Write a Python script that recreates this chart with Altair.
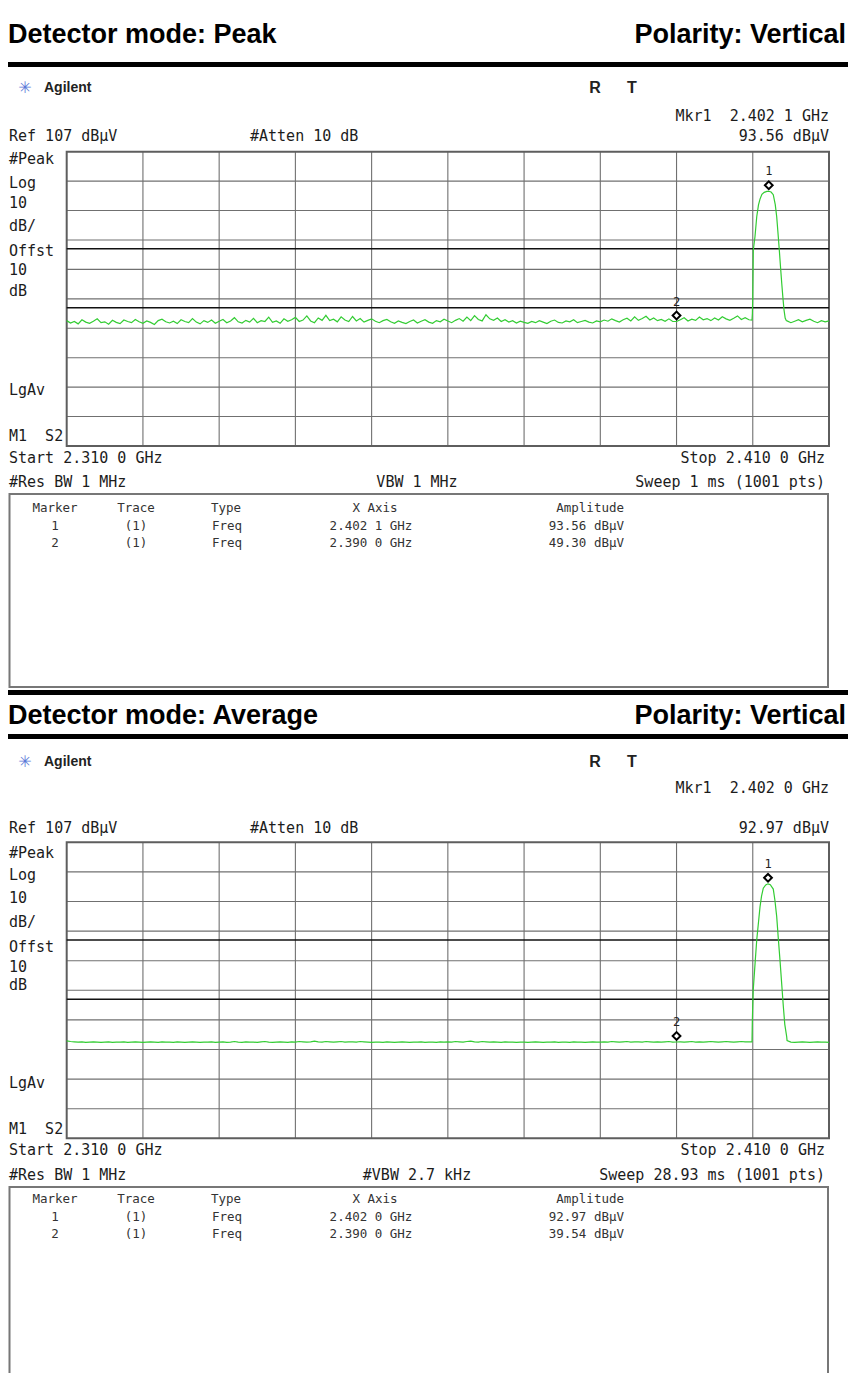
import altair as alt
import pandas as pd

# ---------------- page mapping (reference pixel -> chart pixel) ----------------
OX, OY = 8, 8
W, H = 840, 1365
MONO = "DejaVu Sans Mono"
SANS = "Liberation Sans"
GREEN = "#33cc33"
GRID = "#707070"
INK = "#1c1c1c"

# ---------------- data ----------------
DETECTOR_MODES = ["Peak", "Average"]
POLARITY = "Vertical"
F_START, F_STOP = 2.310, 2.410          # GHz
REF_LEVEL = 107                          # dBuV
SPAN_DB = 100                            # 10 dB/div x 10 div
GRID_FREQS = [2.31, 2.32, 2.33, 2.34, 2.35, 2.36, 2.37, 2.38, 2.39, 2.40, 2.41]
GRID_LEVELS = [107, 97, 87, 77, 67, 57, 47, 37, 27, 17, 7]
LIMIT_LINES = [74, 54]
FLOOR_STEP = 0.0005
RIGHT_FLOOR_START = 2.4045

PEAK_FLOOR_LEFT = [
    49.6, 48.8, 49.3, 48.5, 49.9, 49.1, 48.7, 49.4, 50.2, 48.9, 49.2, 48.4, 49.7, 49.0, 48.6, 49.8, 49.3, 48.9, 50.0, 49.2,
    48.7, 49.5, 49.0, 48.3, 49.6, 50.1, 49.2, 48.8, 49.4, 48.6, 49.9, 49.3, 48.9, 50.3, 49.1, 48.5, 49.6, 49.0, 49.8, 48.7,
    49.4, 50.0, 48.9, 49.5, 50.6, 49.2, 48.8, 49.7, 49.1, 50.4, 48.9, 49.6, 49.3, 50.8, 49.0, 49.5, 48.7, 50.2, 49.4, 49.9,
    50.7, 49.3, 49.8, 51.2, 49.5, 48.9, 50.5, 49.7, 51.4, 49.6, 50.1, 49.2, 50.9, 49.8, 49.3, 51.0, 49.5, 50.3, 49.1, 49.7,
    50.2, 49.4, 48.9, 49.6, 50.0, 49.2, 48.7, 49.5, 49.0, 48.6, 49.3, 49.8, 48.8, 49.4, 49.9, 49.1, 48.7, 49.6, 49.2, 50.1,
    49.5, 48.9, 49.7, 50.3, 49.4, 50.8, 49.6, 51.3, 50.0, 49.5, 51.6, 50.2, 49.7, 50.5, 49.3, 49.9, 49.1, 49.6, 48.8, 49.4,
    49.0, 48.7, 49.3, 48.9, 49.6, 49.1, 48.6, 49.4, 49.8, 49.0, 48.8, 49.5, 49.2, 49.9, 48.9, 49.3, 49.7, 49.1, 48.8, 49.5,
    49.2, 49.8, 49.4, 50.2, 49.6, 49.1, 49.9, 50.4, 49.5, 50.9, 49.7, 50.3, 51.1, 49.8, 50.5, 49.6, 50.0, 49.4, 50.2, 49.3,
    49.3, 49.9, 50.6, 49.5, 50.1, 49.7, 50.8, 49.9, 50.3, 49.6, 50.5, 49.8, 50.9, 50.2, 49.7, 50.4, 51.2, 50.0, 50.6, 49.9,
]
PEAK_SIGNAL_F = [2.39990, 2.39995, 2.40000, 2.40007, 2.40029, 2.40052, 2.40075, 2.40095, 2.40120, 2.40150,
                 2.40185, 2.40210, 2.40240, 2.40269, 2.40295, 2.40314, 2.40335, 2.40348, 2.40365, 2.40380,
                 2.40395, 2.40410, 2.40425, 2.40440]
PEAK_SIGNAL_A = [49.8, 52.0, 57.7, 73.6, 78.1, 84.9, 88.9, 90.9, 92.5, 93.2,
                 93.5, 93.56, 93.3, 92.4, 89.0, 84.9, 78.0, 73.6, 67.5, 62.3,
                 57.5, 53.2, 50.5, 49.6]
PEAK_FLOOR_RIGHT = [49.5, 48.9, 49.4, 49.9, 49.2, 49.7, 50.1, 49.4, 48.9, 49.6, 49.2, 49.5]

AVG_FLOOR_LEFT = [
    39.9, 39.7, 39.6, 39.5, 39.6, 39.4, 39.5, 39.6, 39.5, 39.4, 39.5, 39.6, 39.4, 39.5, 39.5, 39.6, 39.4, 39.5, 39.6, 39.5,
    39.4, 39.5, 39.6, 39.5, 39.4, 39.6, 39.5, 39.5, 39.4, 39.6, 39.5, 39.4, 39.5, 39.6, 39.5, 39.4, 39.5, 39.5, 39.6, 39.4,
    39.5, 39.6, 39.4, 39.5, 39.7, 39.5, 39.4, 39.6, 39.5, 39.5, 39.4, 39.6, 39.7, 39.5, 39.4, 39.5, 39.6, 39.5, 39.4, 39.6,
    39.5, 39.7, 39.6, 39.5, 39.6, 39.8, 39.6, 39.5, 39.7, 39.6, 39.5, 39.6, 39.7, 39.5, 39.6, 39.6, 39.5, 39.7, 39.6, 39.5,
    39.4, 39.5, 39.5, 39.4, 39.6, 39.5, 39.4, 39.5, 39.6, 39.5, 39.4, 39.5, 39.5, 39.6, 39.4, 39.5, 39.5, 39.4, 39.6, 39.5,
    39.6, 39.5, 39.7, 39.6, 39.5, 39.7, 39.8, 39.6, 39.5, 39.7, 39.6, 39.5, 39.6, 39.5, 39.4, 39.6, 39.5, 39.5, 39.4, 39.5,
    39.5, 39.4, 39.5, 39.6, 39.5, 39.4, 39.5, 39.5, 39.6, 39.4, 39.5, 39.5, 39.4, 39.6, 39.5, 39.5, 39.4, 39.5, 39.6, 39.5,
    39.5, 39.6, 39.5, 39.7, 39.6, 39.5, 39.6, 39.7, 39.5, 39.6, 39.6, 39.5, 39.7, 39.6, 39.5, 39.6, 39.5, 39.6, 39.7, 39.5,
    39.54, 39.6, 39.5, 39.6, 39.7, 39.5, 39.6, 39.5, 39.6, 39.7, 39.6, 39.5, 39.6, 39.7, 39.6, 39.5, 39.6, 39.7, 39.6, 39.6,
]
AVG_SIGNAL_F = [2.39990, 2.39994, 2.39998, 2.40006, 2.40030, 2.40052, 2.40075, 2.40095, 2.40115, 2.40138,
                2.40170, 2.40200, 2.40230, 2.40269, 2.40290, 2.40314, 2.40335, 2.40357, 2.40380, 2.40401,
                2.40420, 2.40445]
AVG_SIGNAL_A = [39.6, 46.0, 50.3, 57.1, 66.0, 74.0, 80.0, 85.2, 88.8, 91.5,
                92.6, 92.97, 92.7, 91.2, 87.5, 81.9, 74.5, 67.2, 59.0, 51.5,
                45.5, 41.3]
AVG_FLOOR_RIGHT = [40.0, 39.5, 39.4, 39.5, 39.6, 39.5, 39.4, 39.5, 39.6, 39.5, 39.5, 39.4]

MARKER_IDS = [1, 2]
PEAK_MARKER_F = [2.4021, 2.3900]
PEAK_MARKER_A = [93.56, 49.30]
AVG_MARKER_F = [2.4020, 2.3900]
AVG_MARKER_A = [92.97, 39.54]

NBSP = "\u00a0"
VBW_TEXT = ["VBW 1 MHz", "#VBW 2.7 kHz"]
SWEEP_TEXT = ["Sweep 1 ms (1001 pts)", "Sweep 28.93 ms (1001 pts)"]
SIDE_LABELS = ["#Peak", "Log", "10", "dB/", "Offst", "10", "dB", "LgAv", "M1" + NBSP + NBSP + "S2"]

# ---------------- layout (reference pixels) ----------------
GX0, GX1 = 66.7, 829.0
PANELS = [
    dict(mode=DETECTOR_MODES[0], floor_left=PEAK_FLOOR_LEFT, sig_f=PEAK_SIGNAL_F, sig_a=PEAK_SIGNAL_A,
         floor_right=PEAK_FLOOR_RIGHT, mk_f=PEAK_MARKER_F, mk_a=PEAK_MARKER_A,
         vbw=VBW_TEXT[0], sweep=SWEEP_TEXT[0],
         head_y=35, bars=[62, 67], agil_y=88, mkr_y=115.5, ref_y=135.5,
         gt=151.7, gb=446.0,
         side_y=[159, 182.7, 203, 226, 251, 270, 290.7, 390, 436],
         start_y=458, res_y=482, box=[494, 687], th_y=508, rows_y=[526, 543]),
    dict(mode=DETECTOR_MODES[1], floor_left=AVG_FLOOR_LEFT, sig_f=AVG_SIGNAL_F, sig_a=AVG_SIGNAL_A,
         floor_right=AVG_FLOOR_RIGHT, mk_f=AVG_MARKER_F, mk_a=AVG_MARKER_A,
         vbw=VBW_TEXT[1], sweep=SWEEP_TEXT[1],
         head_y=716, bars=[690, 695, 734, 739], agil_y=762, mkr_y=788, ref_y=828,
         gt=842.3, gb=1138.3,
         side_y=[853.3, 875, 898.3, 921.7, 946.7, 966.7, 985, 1083.3, 1129.3],
         start_y=1150, res_y=1175, box=[1187, 1380], th_y=1199.3, rows_y=[1216.7, 1234.3]),
]

DUMMY = pd.DataFrame({"k": [0]})


def T(s, x, y, size=15, align="left", font=MONO, weight="normal", color=INK):
    return alt.Chart(DUMMY).mark_text(
        text=s, align=align, baseline="middle", font=font, fontSize=size,
        fontWeight=weight, color=color
    ).encode(x=alt.value(x - OX), y=alt.value(y - OY))


def R(x0, y0, x1, y1, fill="black", stroke=None, sw=0):
    kw = dict(fill=fill, strokeWidth=sw)
    if stroke:
        kw["stroke"] = stroke
    if fill is None:
        kw["fill"] = "white"
        kw["fillOpacity"] = 0
    return alt.Chart(DUMMY).mark_rect(**kw).encode(
        x=alt.value(x0 - OX), x2=alt.value(x1 - OX),
        y=alt.value(y0 - OY), y2=alt.value(y1 - OY))


def fmt_f(f):
    s = f"{f:.4f}"
    return s[:-1] + " " + s[-1] + " GHz"


layers = []
xs = alt.Scale(domain=[F_START, F_STOP], range=[GX0 - OX, GX1 - OX], nice=False, zero=False)

for p in PANELS:
    ys = alt.Scale(domain=[REF_LEVEL - SPAN_DB, REF_LEVEL], range=[p["gb"] - OY, p["gt"] - OY],
                   nice=False, zero=False)

    def X(fld):
        return alt.X(fld, type="quantitative", scale=xs, axis=None)

    def Y(fld):
        return alt.Y(fld, type="quantitative", scale=ys, axis=None)

    # black separator bars
    b = p["bars"]
    for i in range(0, len(b), 2):
        layers.append(R(0, b[i], 860, b[i + 1]))

    # header
    layers.append(T(f"Detector mode: {p['mode']}", 8, p["head_y"], 27, font=SANS, weight="bold", color="black"))
    layers.append(T(f"Polarity: {POLARITY}", 846, p["head_y"], 27, align="right", font=SANS, weight="bold", color="black"))

    # analyzer top rows
    layers.append(T("\u2733", 25, p["agil_y"], 16, align="center", font="DejaVu Sans", color="#5a78d8"))
    layers.append(T("Agilent", 44, p["agil_y"], 14, font=SANS, weight="bold", color="#222"))
    layers.append(T("R", 595, p["agil_y"], 16, align="center", font=SANS, weight="bold", color="#222"))
    layers.append(T("T", 632, p["agil_y"], 16, align="center", font=SANS, weight="bold", color="#222"))
    layers.append(T(f"Mkr1{NBSP}{NBSP}{fmt_f(p['mk_f'][0])}", 829, p["mkr_y"], align="right"))
    layers.append(T(f"Ref {REF_LEVEL} dB\u00b5V", 9, p["ref_y"]))
    layers.append(T("#Atten 10 dB", 250, p["ref_y"]))
    layers.append(T(f"{p['mk_a'][0]:.2f} dB\u00b5V", 829, p["ref_y"], align="right"))

    # side labels
    for s, yy in zip(SIDE_LABELS, p["side_y"]):
        layers.append(T(s, 9, yy))

    # grid
    vg = pd.DataFrame({"f": GRID_FREQS[1:-1], "lo": REF_LEVEL - SPAN_DB, "hi": REF_LEVEL})
    layers.append(alt.Chart(vg).mark_rule(color=GRID, strokeWidth=1.1).encode(
        x=X("f"), y=Y("lo"), y2=alt.Y2("hi")))
    hg = pd.DataFrame({"lvl": GRID_LEVELS[1:-1], "f0": F_START, "f1": F_STOP})
    layers.append(alt.Chart(hg).mark_rule(color=GRID, strokeWidth=1.1).encode(
        y=Y("lvl"), x=X("f0"), x2=alt.X2("f1")))
    fr = pd.DataFrame({"f0": [F_START], "f1": [F_STOP], "lo": [REF_LEVEL - SPAN_DB], "hi": [REF_LEVEL]})
    layers.append(alt.Chart(fr).mark_rect(fill="white", fillOpacity=0, stroke="#5e5e5e", strokeWidth=2).encode(
        x=X("f0"), x2=alt.X2("f1"), y=Y("lo"), y2=alt.Y2("hi")))
    lim = pd.DataFrame({"lvl": LIMIT_LINES, "f0": F_START, "f1": F_STOP})
    layers.append(alt.Chart(lim).mark_rule(color="#111", strokeWidth=1.4).encode(
        y=Y("lvl"), x=X("f0"), x2=alt.X2("f1")))

    # trace
    f = ([F_START + i * FLOOR_STEP for i in range(len(p["floor_left"]))] + p["sig_f"]
         + [RIGHT_FLOOR_START + i * FLOOR_STEP for i in range(len(p["floor_right"]))])
    a = p["floor_left"] + p["sig_a"] + p["floor_right"]
    tr = pd.DataFrame({"f": f, "a": a})
    layers.append(alt.Chart(tr).mark_line(color=GREEN, strokeWidth=1.2).encode(x=X("f"), y=Y("a")))

    # markers
    mk = pd.DataFrame({"n": MARKER_IDS, "f": p["mk_f"], "a": p["mk_a"]})
    layers.append(alt.Chart(mk).mark_point(shape="diamond", filled=True, fill="white", stroke="black",
                                           strokeWidth=2, size=60, opacity=1, yOffset=-6).encode(
        x=X("f"), y=Y("a")))
    layers.append(alt.Chart(mk).mark_text(font=MONO, fontSize=12, dy=-20, color="#222").encode(
        x=X("f"), y=Y("a"), text="n:N"))

    # bottom rows
    layers.append(T(f"Start {fmt_f(F_START)}", 9, p["start_y"]))
    layers.append(T(f"Stop {fmt_f(F_STOP)}", 825, p["start_y"], align="right"))
    layers.append(T("#Res BW 1 MHz", 9, p["res_y"]))
    layers.append(T(p["vbw"], 417, p["res_y"], align="center"))
    layers.append(T(p["sweep"], 825, p["res_y"], align="right"))

    # marker table
    layers.append(R(9.5, p["box"][0], 828, p["box"][1], fill=None, stroke="#777", sw=2))
    ts = 12.5
    layers.append(T("Marker", 55, p["th_y"], ts, align="center", color="#333"))
    layers.append(T("Trace", 136, p["th_y"], ts, align="center", color="#333"))
    layers.append(T("Type", 211, p["th_y"], ts, color="#333"))
    layers.append(T("X Axis", 375, p["th_y"], ts, align="center", color="#333"))
    layers.append(T("Amplitude", 624, p["th_y"], ts, align="right", color="#333"))
    for n, mf, ma, ry in zip(MARKER_IDS, p["mk_f"], p["mk_a"], p["rows_y"]):
        layers.append(T(str(n), 55, ry, ts, align="center", color="#333"))
        layers.append(T("(1)", 136, ry, ts, align="center", color="#333"))
        layers.append(T("Freq", 212, ry, ts, color="#333"))
        layers.append(T(fmt_f(mf), 371, ry, ts, align="center", color="#333"))
        layers.append(T(f"{ma:.2f} dB\u00b5V", 624, ry, ts, align="right", color="#333"))

chart = alt.layer(*layers).resolve_scale(y="independent").properties(
    width=W, height=H, padding=0, autosize="none", background="white"
).configure_view(stroke=None)

chart.save("out.html", embed_options={"renderer": "svg", "actions": False})
